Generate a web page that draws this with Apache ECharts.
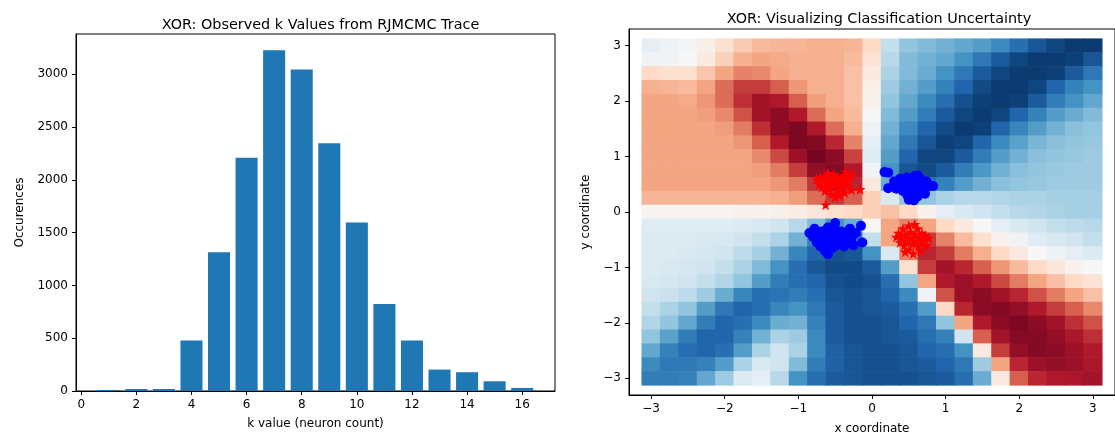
<!DOCTYPE html>
<html>
<head>
<meta charset="utf-8">
<script src="https://cdn.jsdelivr.net/npm/echarts@6/dist/echarts.min.js"></script>
<style>
  html, body { margin: 0; padding: 0; background: #ffffff; }
  #chart { width: 1115px; height: 440px; }
</style>
</head>
<body>
<div id="chart"></div>
<script>
// ---- Left panel: histogram of k values seen in the RJMCMC trace ----
const kValues = [1, 2, 3, 4, 5, 6, 7, 8, 9, 10, 11, 12, 13, 14, 15, 16];
const kCounts = [10, 19, 19, 479, 1313, 2209, 3225, 3044, 2345, 1595, 824, 479, 203, 178, 92, 29];
const kTicks = [0, 2, 4, 6, 8, 10, 12, 14, 16];
const countTicks = [0, 500, 1000, 1500, 2000, 2500, 3000];

// ---- Right panel: predicted class field over the input plane ----
const coordTicks = [-3, -2, -1, 0, 1, 2, 3];
const fieldX = [-3, -2.75, -2.5, -2.25, -2, -1.75, -1.5, -1.25, -1, -0.75, -0.5, -0.25, 0,
                0.25, 0.5, 0.75, 1, 1.25, 1.5, 1.75, 2, 2.25, 2.5, 2.75, 3];
// rows from y = 3 (top) down to y = -3 (bottom); 0 = red class, 1 = blue class
const fieldY = [3, 2.75, 2.5, 2.25, 2, 1.75, 1.5, 1.25, 1, 0.75, 0.5, 0.25, 0,
                -0.25, -0.5, -0.75, -1, -1.25, -1.5, -1.75, -2, -2.25, -2.5, -2.75, -3];
const fieldRows = [
  [0.55,0.53,0.51,0.47,0.42,0.37,0.34,0.33,0.33,0.32,0.32,0.33,0.40,0.62,0.70,0.72,0.74,0.76,0.78,0.82,0.88,0.93,0.96,0.98,0.98],
  [0.52,0.52,0.50,0.45,0.38,0.32,0.30,0.31,0.32,0.32,0.32,0.34,0.43,0.64,0.72,0.74,0.76,0.80,0.86,0.92,0.96,0.98,0.98,0.97,0.93],
  [0.40,0.42,0.42,0.36,0.30,0.25,0.26,0.30,0.32,0.32,0.32,0.35,0.45,0.66,0.72,0.75,0.80,0.86,0.92,0.96,0.98,0.98,0.97,0.92,0.86],
  [0.32,0.33,0.34,0.30,0.22,0.15,0.15,0.20,0.28,0.32,0.32,0.35,0.47,0.68,0.74,0.78,0.84,0.90,0.95,0.98,0.98,0.96,0.90,0.84,0.80],
  [0.30,0.30,0.31,0.28,0.22,0.13,0.08,0.10,0.20,0.29,0.32,0.35,0.48,0.70,0.76,0.82,0.88,0.94,0.97,0.98,0.97,0.92,0.85,0.80,0.76],
  [0.30,0.30,0.30,0.29,0.26,0.18,0.08,0.05,0.10,0.22,0.30,0.34,0.50,0.72,0.78,0.85,0.92,0.96,0.98,0.96,0.90,0.84,0.78,0.75,0.72],
  [0.30,0.30,0.30,0.30,0.29,0.24,0.13,0.05,0.03,0.10,0.22,0.32,0.52,0.74,0.82,0.90,0.95,0.98,0.97,0.90,0.83,0.78,0.74,0.71,0.70],
  [0.30,0.30,0.30,0.30,0.30,0.28,0.20,0.10,0.03,0.04,0.12,0.25,0.55,0.76,0.86,0.93,0.97,0.96,0.90,0.82,0.77,0.73,0.71,0.70,0.69],
  [0.30,0.30,0.30,0.30,0.30,0.30,0.26,0.17,0.07,0.02,0.05,0.16,0.56,0.78,0.90,0.96,0.96,0.92,0.85,0.78,0.74,0.71,0.70,0.69,0.68],
  [0.30,0.30,0.30,0.30,0.30,0.30,0.29,0.24,0.15,0.06,0.04,0.10,0.52,0.80,0.93,0.95,0.92,0.85,0.79,0.74,0.71,0.70,0.69,0.68,0.68],
  [0.30,0.30,0.30,0.30,0.30,0.30,0.30,0.28,0.24,0.14,0.08,0.12,0.45,0.75,0.88,0.88,0.84,0.78,0.74,0.71,0.70,0.69,0.68,0.68,0.68],
  [0.33,0.33,0.33,0.33,0.33,0.33,0.33,0.32,0.29,0.22,0.15,0.20,0.38,0.58,0.70,0.70,0.66,0.64,0.64,0.65,0.66,0.66,0.67,0.67,0.67],
  [0.49,0.49,0.49,0.49,0.49,0.48,0.48,0.47,0.46,0.44,0.42,0.40,0.38,0.35,0.40,0.48,0.55,0.58,0.60,0.62,0.64,0.65,0.66,0.67,0.67],
  [0.56,0.56,0.56,0.56,0.56,0.57,0.58,0.60,0.64,0.72,0.80,0.75,0.50,0.30,0.25,0.30,0.40,0.45,0.50,0.55,0.58,0.60,0.62,0.63,0.64],
  [0.57,0.57,0.57,0.58,0.58,0.60,0.62,0.66,0.74,0.84,0.90,0.88,0.62,0.30,0.15,0.15,0.25,0.34,0.42,0.48,0.52,0.56,0.58,0.60,0.62],
  [0.57,0.57,0.58,0.59,0.60,0.63,0.67,0.74,0.83,0.90,0.94,0.93,0.80,0.58,0.25,0.12,0.15,0.24,0.32,0.40,0.45,0.50,0.53,0.55,0.57],
  [0.57,0.58,0.59,0.60,0.62,0.66,0.72,0.80,0.88,0.93,0.95,0.95,0.92,0.78,0.42,0.15,0.08,0.12,0.20,0.28,0.34,0.40,0.44,0.48,0.50],
  [0.58,0.59,0.60,0.62,0.65,0.70,0.78,0.85,0.88,0.90,0.94,0.95,0.94,0.88,0.70,0.30,0.10,0.07,0.10,0.17,0.24,0.30,0.35,0.40,0.43],
  [0.60,0.61,0.63,0.68,0.75,0.83,0.88,0.87,0.85,0.88,0.93,0.94,0.93,0.90,0.82,0.52,0.18,0.07,0.05,0.08,0.12,0.18,0.24,0.30,0.35],
  [0.62,0.66,0.70,0.78,0.86,0.90,0.88,0.83,0.80,0.86,0.92,0.94,0.93,0.92,0.88,0.78,0.40,0.12,0.05,0.04,0.06,0.10,0.15,0.20,0.26],
  [0.65,0.70,0.76,0.85,0.90,0.88,0.82,0.75,0.74,0.84,0.92,0.94,0.94,0.93,0.90,0.86,0.70,0.30,0.10,0.05,0.03,0.05,0.08,0.13,0.18],
  [0.70,0.77,0.85,0.90,0.90,0.84,0.74,0.66,0.68,0.82,0.92,0.94,0.94,0.93,0.92,0.88,0.84,0.60,0.20,0.08,0.04,0.04,0.06,0.09,0.13],
  [0.76,0.84,0.88,0.90,0.88,0.78,0.66,0.60,0.66,0.82,0.91,0.93,0.94,0.94,0.93,0.90,0.88,0.80,0.45,0.15,0.06,0.04,0.05,0.07,0.10],
  [0.82,0.86,0.86,0.84,0.78,0.66,0.58,0.60,0.72,0.85,0.91,0.93,0.94,0.94,0.93,0.92,0.90,0.86,0.68,0.30,0.12,0.07,0.06,0.07,0.09],
  [0.85,0.85,0.84,0.76,0.68,0.57,0.55,0.64,0.80,0.88,0.92,0.93,0.94,0.94,0.94,0.93,0.92,0.88,0.75,0.45,0.20,0.12,0.10,0.09,0.08]
];

// training points: red class (stars) and blue class (circles)
const redStarsUpper = [
  [-0.75,0.60],[-0.72,0.50],[-0.70,0.62],[-0.68,0.45],[-0.66,0.55],[-0.64,0.38],[-0.62,0.65],[-0.60,0.50],
  [-0.58,0.42],[-0.56,0.58],[-0.55,0.32],[-0.53,0.48],[-0.52,0.68],[-0.50,0.55],[-0.48,0.40],[-0.47,0.62],
  [-0.45,0.50],[-0.44,0.30],[-0.42,0.58],[-0.40,0.45],[-0.38,0.66],[-0.37,0.35],[-0.35,0.55],[-0.33,0.50],
  [-0.30,0.62],[-0.28,0.40],[-0.27,0.68],[-0.63,0.13],[-0.16,0.41],[-0.50,0.27],[-0.60,0.70],[-0.36,0.72]
];
const redStarsLower = [
  [0.33,-0.45],[0.36,-0.38],[0.38,-0.55],[0.40,-0.48],[0.42,-0.30],[0.44,-0.60],[0.46,-0.42],[0.48,-0.52],
  [0.50,-0.25],[0.50,-0.68],[0.52,-0.36],[0.54,-0.47],[0.55,-0.58],[0.56,-0.75],[0.58,-0.40],[0.60,-0.52],
  [0.62,-0.30],[0.63,-0.62],[0.65,-0.45],[0.67,-0.55],[0.68,-0.38],[0.70,-0.50],[0.72,-0.42],[0.74,-0.60],
  [0.77,-0.47],[0.45,-0.72],[0.58,-0.22],[0.66,-0.70]
];
const blueDotsUpper = [
  [0.17,0.72],[0.22,0.71],[0.22,0.43],[0.30,0.55],[0.35,0.50],[0.38,0.60],[0.40,0.45],[0.42,0.38],[0.45,0.55],
  [0.47,0.62],[0.48,0.30],[0.50,0.50],[0.52,0.42],[0.53,0.58],[0.55,0.35],[0.56,0.48],[0.58,0.65],
  [0.60,0.40],[0.60,0.55],[0.62,0.28],[0.63,0.47],[0.65,0.60],[0.67,0.38],[0.68,0.52],[0.70,0.45],
  [0.72,0.33],[0.74,0.55],[0.78,0.47],[0.83,0.47],[0.50,0.22],[0.57,0.21],[0.62,0.66],[0.33,0.42]
];
const blueDotsLower = [
  [-0.85,-0.38],[-0.80,-0.45],[-0.78,-0.30],[-0.75,-0.55],[-0.72,-0.42],[-0.70,-0.62],[-0.68,-0.35],
  [-0.66,-0.50],[-0.64,-0.70],[-0.62,-0.44],[-0.60,-0.28],[-0.58,-0.58],[-0.56,-0.38],[-0.54,-0.65],
  [-0.52,-0.50],[-0.50,-0.32],[-0.48,-0.60],[-0.46,-0.45],[-0.44,-0.55],[-0.42,-0.35],[-0.40,-0.50],
  [-0.38,-0.62],[-0.35,-0.42],[-0.32,-0.55],[-0.30,-0.30],[-0.28,-0.48],[-0.25,-0.60],[-0.22,-0.38],
  [-0.15,-0.25],[-0.13,-0.55],[-0.60,-0.76],[-0.50,-0.20]
];

// diverging red-blue palette
const rdbu = ['#67001f','#b2182b','#d6604d','#f4a582','#fddbc7','#f7f7f7',
              '#d1e5f0','#92c5de','#4393c3','#2166ac','#053061'];

// ---- layout ----
const FONT = 'DejaVu Sans';
const leftGrid = { left: 76, top: 34, width: 479, height: 357 };
const rightGrid = { left: 629, top: 29, width: 492, height: 366 };
const kMin = -0.19, kMax = 17.19;
const cMin = -3.3, cMax = 3.3;
const fieldStep = 0.25;

const barPx = leftGrid.width / (kMax - kMin) * 0.8;
const cellW = rightGrid.width / (cMax - cMin) * fieldStep + 0.6;
const cellH = rightGrid.height / (cMax - cMin) * fieldStep + 0.6;

const barData = kValues.map((k, i) => [k, kCounts[i]]);
const fieldData = [];
fieldRows.forEach((row, j) => {
  row.forEach((v, i) => fieldData.push([fieldX[i], fieldY[j], v]));
});

const plainFmt = v => String(v);
const minusFmt = v => String(v).replace('-', '\u2212');
const tickLabel = { color: '#000', fontFamily: FONT, fontSize: 12, margin: 8 };
const tickStyle = { show: true, inside: false, length: 4, lineStyle: { color: '#000', width: 1 } };
const lineStyle = { show: true, onZero: false, lineStyle: { color: '#000', width: 1 } };
const nameStyle = { color: '#000', fontFamily: FONT, fontSize: 12 };

const starPath = 'path://M50,0 L61.2,34.5 L97.6,34.5 L68.2,55.9 L79.4,90.5 L50,69.1 L20.6,90.5 L31.8,55.9 L2.4,34.5 L38.8,34.5 Z';

const chart = echarts.init(document.getElementById('chart'), null, { renderer: 'canvas' });
chart.setOption({
  animation: false,
  backgroundColor: '#ffffff',
  textStyle: { fontFamily: FONT },
  title: [
    { text: 'XOR: Observed k Values from RJMCMC Trace', left: 315.5, top: 13, textAlign: 'center',
      textStyle: { fontFamily: FONT, fontSize: 14.4, fontWeight: 'normal', color: '#000' } },
    { text: 'XOR: Visualizing Classification Uncertainty', left: 874, top: 7, textAlign: 'center',
      textStyle: { fontFamily: FONT, fontSize: 14.4, fontWeight: 'normal', color: '#000' } }
  ],
  grid: [
    Object.assign({ show: true, borderColor: '#000', borderWidth: 1, backgroundColor: '#fff' }, leftGrid),
    Object.assign({ show: true, borderColor: '#000', borderWidth: 1, backgroundColor: '#fff' }, rightGrid)
  ],
  visualMap: {
    show: false, type: 'continuous', seriesIndex: 1, dimension: 2,
    min: 0, max: 1, inRange: { color: rdbu }
  },
  xAxis: [
    { gridIndex: 0, type: 'value', min: kMin, max: kMax,
      axisLine: lineStyle, splitLine: { show: false },
      axisTick: Object.assign({ customValues: kTicks }, tickStyle),
      axisLabel: Object.assign({ customValues: kTicks, formatter: plainFmt }, tickLabel),
      name: 'k value (neuron count)', nameLocation: 'middle', nameGap: 27, nameTextStyle: nameStyle },
    { gridIndex: 1, type: 'value', min: cMin, max: cMax,
      axisLine: lineStyle, splitLine: { show: false },
      axisTick: Object.assign({ customValues: coordTicks }, tickStyle),
      axisLabel: Object.assign({ customValues: coordTicks, formatter: minusFmt }, tickLabel),
      name: 'x coordinate', nameLocation: 'middle', nameGap: 28, nameTextStyle: nameStyle }
  ],
  yAxis: [
    { gridIndex: 0, type: 'value', min: 0, max: 3380,
      axisLine: lineStyle, splitLine: { show: false },
      axisTick: Object.assign({ customValues: countTicks }, tickStyle),
      axisLabel: Object.assign({ customValues: countTicks, formatter: plainFmt }, tickLabel),
      name: 'Occurences', nameLocation: 'middle', nameGap: 50, nameRotate: 90, nameTextStyle: nameStyle },
    { gridIndex: 1, type: 'value', min: cMin, max: cMax,
      axisLine: lineStyle, splitLine: { show: false },
      axisTick: Object.assign({ customValues: coordTicks }, tickStyle),
      axisLabel: Object.assign({ customValues: coordTicks, formatter: minusFmt }, tickLabel),
      name: 'y coordinate', nameLocation: 'middle', nameGap: 37, nameRotate: 90, nameTextStyle: nameStyle }
  ],
  series: [
    { type: 'bar', xAxisIndex: 0, yAxisIndex: 0, data: barData, barWidth: barPx,
      itemStyle: { color: '#1f77b4' }, silent: true },
    { type: 'scatter', xAxisIndex: 1, yAxisIndex: 1, data: fieldData, symbol: 'rect',
      symbolSize: [cellW, cellH], itemStyle: { opacity: 1, borderWidth: 0 },
      silent: true, z: 1, clip: true, large: false },
    { type: 'scatter', xAxisIndex: 1, yAxisIndex: 1, data: blueDotsUpper.concat(blueDotsLower),
      symbol: 'circle', symbolSize: 10, itemStyle: { color: '#0000ff', opacity: 1 }, silent: true, z: 3 },
    { type: 'scatter', xAxisIndex: 1, yAxisIndex: 1, data: redStarsUpper.concat(redStarsLower),
      symbol: starPath, symbolSize: 11, itemStyle: { color: '#ff0000', opacity: 1 }, silent: true, z: 4 }
  ]
});
</script>
</body>
</html>
